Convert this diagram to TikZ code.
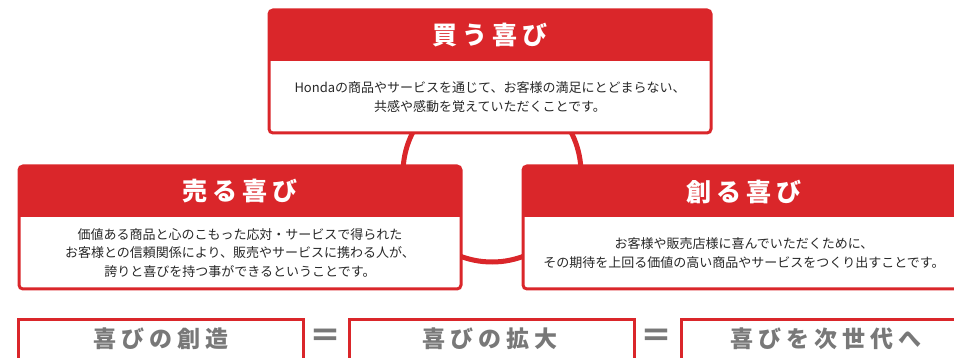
\documentclass[tikz,border=0pt]{standalone}
\usepackage{fontspec}
\setmainfont{Noto Sans CJK JP}
\newfontfamily\headfont[LetterSpace=20]{Noto Sans CJK JP}
\newfontfamily\tagfont[LetterSpace=22]{Noto Sans CJK JP}
\usetikzlibrary{positioning}

\definecolor{hondared}{RGB}{218,38,42}
\definecolor{tagtext}{RGB}{120,120,120}
\definecolor{bodytext}{RGB}{40,40,40}

\tikzset{
  head/.style={fill=hondared, text=white, minimum width=442pt, minimum height=51pt,
    inner sep=0pt, outer sep=0pt, font=\headfont\bfseries\fontsize{25}{28}\selectfont},
  body/.style={fill=white, text=bodytext, minimum width=442pt, inner sep=0pt, outer sep=0pt,
    align=center, font=\fontsize{13}{18.5}\selectfont},
  frame/.style={draw=hondared, line width=3pt, rounded corners=4pt},
  tag/.style={draw=hondared, line width=2.6pt, fill=white, minimum height=60pt,
    inner sep=0pt, anchor=north west},
  tagtxt/.style={text=tagtext, font=\tagfont\bfseries\fontsize{23}{26}\selectfont},
  eq/.style={text=tagtext, inner sep=0pt, font=\bfseries\fontsize{32}{32}\selectfont}
}

\begin{document}
\begin{tikzpicture}[x=1pt, y=-1pt]
  \useasboundingbox (0,0) rectangle (954,358);
  \clip (0,0) rectangle (954,358);

  % ring behind the three boxes
  \node[draw=hondared, line width=5pt, circle, minimum size=178pt, inner sep=0pt] (ring) at (492,173) {};

  % top
  \node[head, anchor=north west] (buyhead) at (269,10) {買う喜び};
  \node[body, minimum height=72pt, below=0pt of buyhead] (buybody)
    {Hondaの商品やサービスを通じて、お客様の満足にとどまらない、\\共感や感動を覚えていただくことです。};
  \draw[frame] (buyhead.north west) rectangle (buybody.south east);

  % left
  \node[head, anchor=north west] (sellhead) at (19,166) {売る喜び};
  \node[body, minimum height=72pt, below=0pt of sellhead] (sellbody)
    {価値ある商品と心のこもった応対・サービスで得られた\\お客様との信頼関係により、販売やサービスに携わる人が、\\誇りと喜びを持つ事ができるということです。};
  \draw[frame] (sellhead.north west) rectangle (sellbody.south east);

  % right
  \node[head, anchor=north west] (makehead) at (523,166) {創る喜び};
  \node[body, minimum height=72pt, below=0pt of makehead] (makebody)
    {お客様や販売店様に喜んでいただくために、\\その期待を上回る価値の高い商品やサービスをつくり出すことです。};
  \draw[frame] (makehead.north west) rectangle (makebody.south east);

  % bottom row
  \node[tag, minimum width=285pt] (create) at (17,318) {};
  \node[tag, minimum width=285pt] (expand) at (348,318) {};
  \node[tag, minimum width=290pt] (future) at (680,318) {};
  \node[tagtxt] (createtxt) at (161,339) {喜びの創造};
  \node[tagtxt] (expandtxt) at (490,339) {喜びの拡大};
  \node[tagtxt] (futuretxt) at (826,339) {喜びを次世代へ};
  \node[eq] (eqa) at (325,338) {＝};
  \node[eq] (eqb) at (656,338) {＝};
\end{tikzpicture}
\end{document}
